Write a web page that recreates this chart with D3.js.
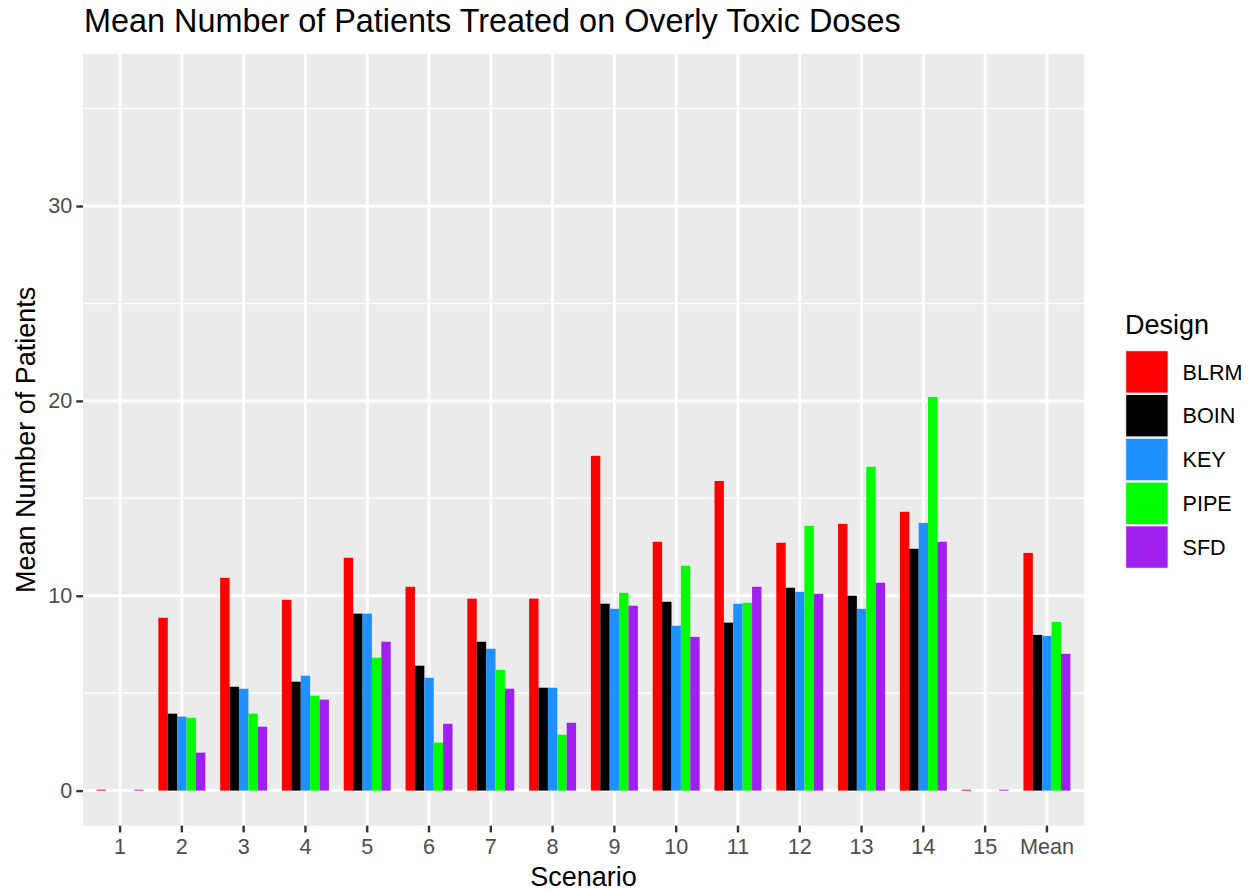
<!DOCTYPE html>
<html>
<head>
<meta charset="utf-8">
<script src="https://cdn.jsdelivr.net/npm/d3@7"></script>
<style>
  body { margin: 0; background: #fff; }
  svg { display: block; font-family: "Liberation Sans", Arial, sans-serif; }
</style>
</head>
<body>
<svg id="chart"></svg>
<script>
// data
const scenarios = ["1", "2", "3", "4", "5", "6", "7", "8", "9", "10", "11", "12", "13", "14", "15", "Mean"];
const designs = ["BLRM", "BOIN", "KEY", "PIPE", "SFD"];
const colors = ["#FF0000", "#000000", "#1E90FF", "#00FF00", "#A020F0"];
const blrm = [0.05, 8.87, 10.92, 9.79, 11.95, 10.46, 9.85, 9.85, 17.18, 12.77, 15.89, 12.72, 13.69, 14.31, 0.05, 12.2];
const boin = [0, 3.95, 5.33, 5.59, 9.08, 6.41, 7.64, 5.28, 9.59, 9.69, 8.62, 10.41, 10.0, 12.41, 0, 7.99];
const key  = [0, 3.8, 5.23, 5.9, 9.08, 5.79, 7.28, 5.28, 9.33, 8.46, 9.59, 10.2, 9.33, 13.74, 0, 7.94];
const pipe = [0, 3.74, 3.95, 4.87, 6.82, 2.46, 6.2, 2.87, 10.15, 11.54, 9.64, 13.59, 16.62, 20.2, 0, 8.66];
const sfd  = [0.05, 1.95, 3.28, 4.67, 7.64, 3.43, 5.23, 3.48, 9.49, 7.89, 10.46, 10.1, 10.67, 12.77, 0.05, 7.02];
const yTicks = [0, 10, 20, 30];
const yMinor = [5, 15, 25, 35];

const series = [blrm, boin, key, pipe, sfd];
const rows = [];
scenarios.forEach((s, i) => {
    designs.forEach((d, j) => rows.push({ scenario: s, design: d, value: series[j][i] }));
});

// panel box
const panel = { left: 83, right: 1084, top: 54, bottom: 825.7 };

const svg = d3.select("#chart")
    .attr("width", 1257)
    .attr("height", 892);

const xScale = d3.scaleBand()
    .domain(scenarios)
    .range([panel.left, panel.right])
    .paddingInner(0.24)
    .paddingOuter(0.22);

const xInner = d3.scaleBand()
    .domain(designs)
    .range([0, xScale.bandwidth()]);

const yScale = d3.scaleLinear()
    .domain([-1.8, 37.8])
    .range([panel.bottom, panel.top]);

const color = d3.scaleOrdinal().domain(designs).range(colors);

// panel background and grid
svg.append("rect")
    .attr("x", panel.left)
    .attr("y", panel.top)
    .attr("width", panel.right - panel.left)
    .attr("height", panel.bottom - panel.top)
    .attr("fill", "#EBEBEB");

svg.append("g").selectAll("line")
    .data(yMinor)
    .join("line")
    .attr("x1", panel.left).attr("x2", panel.right)
    .attr("y1", d => yScale(d)).attr("y2", d => yScale(d))
    .attr("stroke", "#fff").attr("stroke-width", 1.5);

svg.append("g").selectAll("line")
    .data(yTicks)
    .join("line")
    .attr("x1", panel.left).attr("x2", panel.right)
    .attr("y1", d => yScale(d)).attr("y2", d => yScale(d))
    .attr("stroke", "#fff").attr("stroke-width", 3);

svg.append("g").selectAll("line")
    .data(scenarios)
    .join("line")
    .attr("x1", d => xScale(d) + xScale.bandwidth() / 2)
    .attr("x2", d => xScale(d) + xScale.bandwidth() / 2)
    .attr("y1", panel.top).attr("y2", panel.bottom)
    .attr("stroke", "#fff").attr("stroke-width", 3);

// bars
svg.append("g").selectAll("rect")
    .data(rows)
    .join("rect")
    .attr("x", d => xScale(d.scenario) + xInner(d.design))
    .attr("width", xInner.bandwidth())
    .attr("y", d => yScale(d.value))
    .attr("height", d => yScale(0) - yScale(d.value))
    .attr("fill", d => color(d.design));

// axes
const xAxis = svg.append("g")
    .attr("transform", `translate(0,${panel.bottom})`)
    .call(d3.axisBottom(xScale).tickSize(6.7).tickPadding(6));

const yAxis = svg.append("g")
    .attr("transform", `translate(${panel.left},0)`)
    .call(d3.axisLeft(yScale).tickValues(yTicks).tickSize(6.7).tickPadding(4));

[xAxis, yAxis].forEach(ax => {
    ax.select(".domain").remove();
    ax.selectAll(".tick line").attr("stroke", "#333333").attr("stroke-width", 2.4);
    ax.selectAll(".tick text")
        .attr("fill", "#4D4D4D")
        .style("font-size", "21.6px")
        .style("font-family", "'Liberation Sans', Arial, sans-serif");
});

// titles
svg.append("text")
    .attr("x", 84)
    .attr("y", 32)
    .style("font-size", "32.4px")
    .attr("fill", "#000")
    .text("Mean Number of Patients Treated on Overly Toxic Doses");

svg.append("text")
    .attr("x", (panel.left + panel.right) / 2)
    .attr("y", 886)
    .attr("text-anchor", "middle")
    .style("font-size", "27px")
    .text("Scenario");

svg.append("text")
    .attr("transform", `translate(35,${(panel.top + panel.bottom) / 2}) rotate(-90)`)
    .attr("text-anchor", "middle")
    .style("font-size", "27px")
    .text("Mean Number of Patients");

// legend
const legend = svg.append("g").attr("transform", "translate(1125,350)");

legend.append("text")
    .attr("x", 0)
    .attr("y", -16)
    .style("font-size", "27px")
    .text("Design");

const keyStep = 43.8;
const items = legend.selectAll("g.item")
    .data(designs)
    .join("g")
    .attr("class", "item")
    .attr("transform", (d, i) => `translate(0,${i * keyStep})`);

items.append("rect")
    .attr("width", keyStep)
    .attr("height", keyStep)
    .attr("fill", "#F2F2F2");

items.append("rect")
    .attr("x", 1.2)
    .attr("y", 1.2)
    .attr("width", keyStep - 2.4)
    .attr("height", keyStep - 2.4)
    .attr("fill", d => color(d));

items.append("text")
    .attr("x", 57.5)
    .attr("y", keyStep / 2)
    .attr("dy", "0.36em")
    .style("font-size", "21.6px")
    .text(d => d);
</script>
</body>
</html>
